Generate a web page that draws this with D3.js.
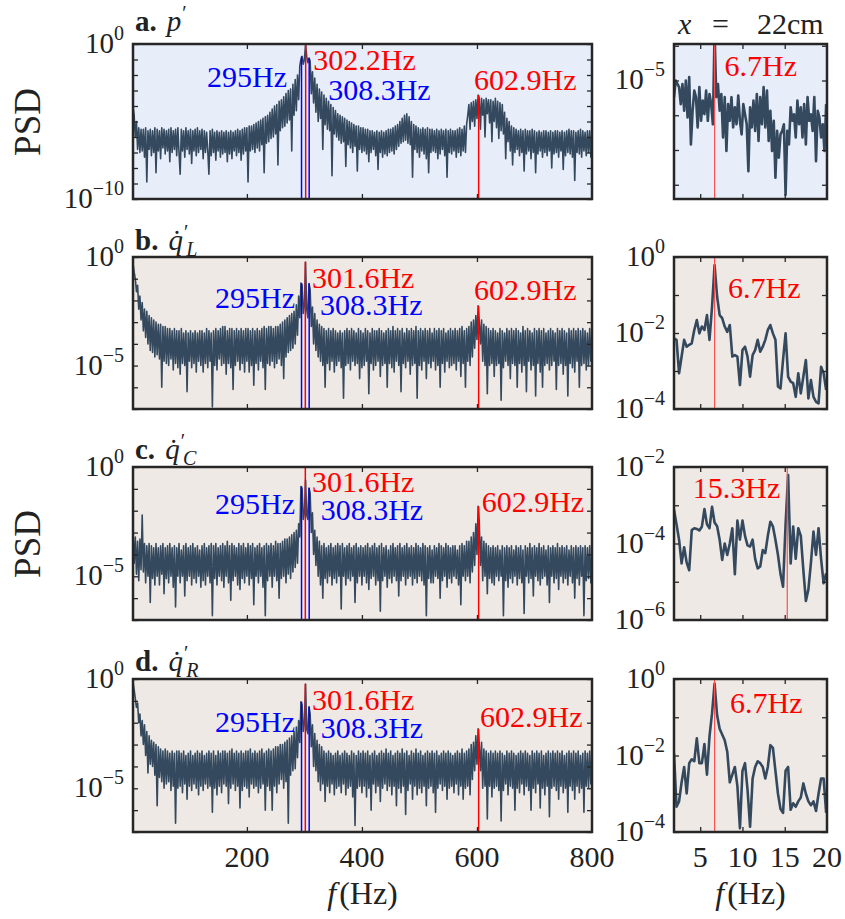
<!DOCTYPE html>
<html>
<head>
<meta charset="utf-8">
<script src="https://cdn.jsdelivr.net/npm/d3@7"></script>
<style>
	body { margin: 0; background: #fff; }
	text { font-family: "Liberation Serif", "Times New Roman", serif; fill: #222; }
</style>
</head>
<body>
<svg id="chart" width="845" height="919" font-family="Liberation Serif, serif"></svg>
<script>
// frequency grids (Hz)
const wideFreq  = d3.range(2, 801, 2)
const slowFreqP = d3.range(91).map(i => +(1.9 + 0.2 * i).toFixed(1))
const slowFreqQ = d3.range(61).map(i => +(1.9 + 0.3 * i).toFixed(1))

// log10(PSD), 0-800 Hz panels, one row = 40 Hz
const psdP = [
	-4.0,-4.6,-6.0,-5.0,-6.8,-5.4,-7.0,-5.5,-6.9,-5.5,-7.3,-5.4,-8.9,-5.6,-6.8,-5.5,-7.2,-5.6,-7.0,-5.4,
	-8.3,-5.5,-6.9,-5.6,-7.4,-5.4,-6.7,-5.5,-7.1,-5.6,-6.9,-5.5,-7.6,-5.4,-7.0,-5.6,-6.8,-5.5,-7.2,-5.4,
	-7.0,-8.4,-5.5,-6.9,-5.6,-7.3,-5.4,-6.8,-5.6,-7.1,-5.5,-7.7,-5.6,-6.9,-5.5,-7.2,-5.4,-7.0,-5.6,-6.8,
	-5.5,-7.4,-5.6,-7.0,-5.7,-6.9,-8.4,-5.6,-7.2,-5.5,-7.0,-5.7,-7.5,-5.6,-6.9,-5.7,-7.3,-5.6,-7.1,-5.7,
	-7.0,-5.6,-7.6,-5.7,-7.1,-5.6,-7.4,-5.7,-6.9,-5.6,-7.2,-5.5,-7.0,-5.6,-7.5,-5.5,-7.1,-5.4,-6.9,-5.4,
	-8.9,-5.3,-6.9,-5.3,-6.8,-5.2,-7.0,-5.1,-6.7,-5.0,-6.9,-4.9,-6.5,-4.8,-8.3,-4.7,-6.4,-4.6,-6.3,-4.4,
	-6.1,-4.2,-6.0,-4.0,-5.8,-3.9,-7.8,-3.7,-5.6,-3.6,-5.4,-3.4,-5.3,-3.2,-5.1,-3.0,-4.9,-2.9,-6.9,-2.6,
	-4.6,-2.3,-4.3,-2.0,-3.6,-1.4,-1.0,-0.8,-1.3,-1.0,-0.05,-0.8,-1.2,-0.9,-1.1,-3.2,-1.8,-3.8,-2.2,-4.4,
	-2.6,-5.0,-2.9,-4.8,-3.1,-6.8,-3.3,-5.2,-3.5,-5.5,-3.7,-5.6,-3.9,-8.5,-4.1,-5.8,-4.3,-6.0,-4.5,-6.2,
	-4.6,-6.4,-4.7,-6.3,-4.8,-7.9,-4.9,-6.5,-5.0,-6.7,-5.1,-7.0,-5.2,-6.6,-5.3,-8.2,-5.3,-6.8,-5.4,-7.0,
	-5.4,-6.9,-5.5,-7.1,-5.5,-7.6,-5.6,-7.0,-5.6,-6.8,-5.7,-7.2,-5.6,-8.1,-5.7,-7.0,-5.6,-7.3,-5.7,-7.1,
	-5.6,-7.2,-5.5,-7.0,-5.5,-6.9,-5.4,-7.1,-5.3,-6.8,-5.2,-6.6,-5.0,-6.4,-4.8,-6.3,-4.6,-6.2,-4.5,-6.4,
	-4.7,-6.5,-5.0,-8.6,-5.2,-6.8,-5.3,-7.0,-5.4,-7.3,-5.5,-6.9,-5.4,-7.1,-5.5,-7.4,-5.4,-8.3,-5.5,-7.0,
	-5.5,-6.9,-5.6,-7.0,-5.5,-7.4,-5.6,-7.1,-5.5,-6.8,-5.6,-7.2,-5.5,-8.6,-5.6,-7.0,-5.5,-7.1,-5.6,-6.9,
	-5.6,-7.3,-5.5,-7.0,-5.4,-7.2,-5.5,-6.9,-5.3,-7.0,-5.2,-4.6,-3.9,-5.5,-3.8,-5.0,-3.7,-5.3,-3.6,-4.8,
	-3.3,-3.5,-5.5,-3.5,-4.6,-3.6,-6.0,-3.5,-4.5,-3.6,-5.1,-3.6,-6.3,-3.7,-5.0,-3.5,-5.4,-3.7,-6.1,-3.8,
	-5.6,-3.9,-5.8,-4.4,-7.4,-4.8,-6.3,-5.0,-6.9,-5.3,-7.8,-5.4,-7.0,-5.5,-6.8,-5.6,-7.2,-5.5,-7.0,-5.6,
	-8.2,-5.5,-7.1,-5.6,-6.9,-5.6,-7.4,-5.5,-7.0,-5.6,-8.3,-5.7,-7.1,-5.6,-6.9,-5.7,-7.3,-5.6,-7.0,-5.6,
	-7.2,-5.7,-6.9,-5.6,-8.0,-5.7,-7.1,-5.6,-7.0,-5.6,-7.3,-5.7,-6.9,-5.6,-8.1,-5.7,-7.2,-5.6,-7.0,-5.5,
	-7.1,-5.6,-7.3,-5.6,-8.8,-5.7,-7.0,-5.6,-7.1,-5.5,-7.3,-5.6,-6.9,-5.7,-7.2,-5.6,-7.0,-5.6,-7.3,-5.5
]
const psdQL = [
	-0.3,-0.7,-1.0,-1.6,-1.3,-2.4,-1.8,-2.9,-2.1,-3.4,-2.4,-3.7,-2.5,-4.0,-2.7,-4.3,-2.8,-4.4,-2.9,-4.6,
	-3.0,-4.5,-3.1,-4.7,-3.1,-6.0,-3.2,-4.8,-3.2,-4.9,-3.3,-5.0,-3.3,-4.7,-3.4,-5.2,-3.3,-4.9,-3.4,-5.1,
	-3.4,-5.4,-3.3,-4.9,-3.5,-5.0,-3.4,-6.2,-3.5,-4.8,-3.4,-5.1,-3.5,-4.9,-3.4,-5.3,-3.5,-4.8,-3.4,-5.0,
	-3.4,-5.3,-3.5,-4.9,-3.3,-5.1,-3.4,-4.8,-3.5,-6.9,-3.4,-5.0,-3.3,-5.2,-3.4,-4.7,-3.3,-5.0,-3.2,-4.9,
	-3.2,-5.4,-3.4,-4.9,-3.3,-5.1,-3.3,-6.1,-3.4,-5.0,-3.3,-4.8,-3.4,-5.2,-3.3,-4.9,-3.4,-5.3,-3.3,-4.8,
	-3.3,-5.3,-3.4,-5.0,-3.3,-5.9,-3.4,-4.9,-3.3,-5.2,-3.4,-4.8,-3.3,-5.1,-3.2,-6.1,-3.3,-4.9,-3.2,-5.0,
	-3.2,-4.8,-3.3,-5.1,-3.2,-4.9,-3.2,-4.7,-3.1,-5.0,-3.0,-5.6,-2.9,-4.6,-2.8,-4.4,-2.7,-4.3,-2.6,-4.2,
	-2.5,-4.0,-2.2,-3.6,-1.8,-2.8,-1.2,-1.3,-2.6,-2.2,-0.23,-2.4,-2.8,-1.22,-1.5,-3.2,-2.3,-4.0,-2.6,-4.3,
	-2.9,-4.6,-3.1,-4.8,-3.2,-5.0,-3.3,-6.0,-3.4,-4.9,-3.3,-5.2,-3.4,-4.8,-3.3,-5.3,-3.4,-5.0,-3.5,-4.8,
	-3.4,-5.1,-3.5,-6.5,-3.4,-5.0,-3.3,-4.9,-3.4,-5.2,-3.3,-4.8,-3.4,-5.0,-3.5,-4.9,-3.3,-5.6,-3.4,-5.1,
	-3.5,-5.0,-3.3,-4.8,-3.4,-6.3,-3.5,-4.9,-3.3,-5.2,-3.4,-5.0,-3.4,-4.8,-3.3,-5.5,-3.4,-5.0,-3.5,-4.9,
	-3.4,-6.0,-3.3,-4.9,-3.4,-5.1,-3.2,-5.3,-3.4,-4.8,-3.3,-5.0,-3.4,-6.2,-3.3,-4.9,-3.5,-5.1,-3.3,-4.8,
	-3.4,-5.4,-3.3,-5.0,-3.4,-4.9,-3.2,-6.5,-3.4,-5.0,-3.3,-5.2,-3.4,-4.8,-3.3,-5.6,-3.4,-4.9,-3.3,-5.1,
	-3.5,-4.8,-3.3,-5.2,-3.4,-5.0,-3.3,-6.0,-3.4,-4.9,-3.3,-5.3,-3.5,-4.8,-3.4,-5.1,-3.3,-5.0,-3.4,-4.9,
	-3.3,-5.2,-3.4,-4.8,-3.3,-5.5,-3.2,-4.9,-3.4,-6.0,-3.3,-4.8,-3.2,-5.0,-3.0,-4.6,-2.9,-4.2,-2.7,-3.8,
	-2.25,-3.0,-4.0,-2.9,-4.8,-3.1,-5.0,-3.2,-6.3,-3.3,-5.0,-3.4,-4.9,-3.3,-5.5,-3.4,-5.0,-3.5,-4.9,-3.3,
	-6.6,-3.4,-5.1,-3.5,-4.8,-3.3,-5.0,-3.4,-5.6,-3.3,-4.9,-3.4,-5.0,-3.3,-6.0,-3.4,-4.9,-3.5,-5.3,-3.2,
	-5.0,-3.4,-6.2,-3.3,-4.8,-3.4,-5.2,-3.5,-5.0,-3.3,-6.4,-3.4,-4.9,-3.3,-5.3,-3.4,-6.0,-3.3,-5.0,-3.5,
	-4.9,-3.4,-5.2,-3.3,-5.0,-3.4,-4.8,-3.5,-6.1,-3.3,-5.0,-3.4,-4.9,-3.3,-5.4,-3.4,-5.0,-3.5,-6.4,-3.3,
	-4.9,-3.4,-5.1,-3.3,-5.3,-3.4,-4.8,-3.3,-6.0,-3.4,-5.0,-3.3,-4.9,-3.4,-5.2,-3.5,-5.0,-3.3,-4.8,-3.4
]
const psdQC = [
	-3.0,-4.4,-3.2,-4.9,-3.4,-5.2,-3.3,-4.7,-2.2,-4.8,-3.5,-5.3,-3.6,-5.0,-3.5,-6.2,-3.6,-5.1,-3.7,-5.4,
	-3.5,-5.0,-3.7,-5.4,-3.6,-4.9,-3.5,-5.8,-3.7,-5.1,-3.6,-5.3,-3.5,-5.0,-3.7,-5.5,-3.6,-6.4,-3.7,-5.0,
	-3.5,-5.3,-3.8,-5.0,-3.6,-5.9,-3.5,-5.2,-3.7,-5.0,-3.6,-5.4,-3.5,-5.1,-3.7,-5.3,-3.6,-5.0,-3.8,-5.5,
	-3.6,-5.2,-3.5,-5.4,-3.7,-5.0,-3.6,-5.3,-3.5,-6.8,-3.6,-5.1,-3.5,-5.4,-3.7,-5.0,-3.6,-5.2,-3.5,-5.5,
	-3.6,-5.0,-3.4,-5.3,-3.6,-6.1,-3.5,-5.2,-3.6,-5.0,-3.7,-5.4,-3.5,-5.6,-3.6,-5.1,-3.5,-5.3,-3.7,-5.0,
	-3.5,-5.4,-3.6,-5.1,-3.5,-6.3,-3.7,-5.0,-3.6,-5.3,-3.5,-5.0,-3.7,-5.5,-3.6,-6.8,-3.5,-5.2,-3.6,-5.0,
	-3.5,-5.5,-3.6,-5.0,-3.4,-5.2,-3.5,-6.0,-3.5,-5.1,-3.4,-5.0,-3.3,-5.3,-3.3,-4.9,-3.2,-5.1,-3.1,-4.8,
	-3.0,-4.6,-2.9,-4.4,-2.6,-3.2,-0.89,-1.0,-2.4,-2.1,-0.6,-2.2,-2.4,-0.96,-1.2,-3.0,-2.1,-4.0,-2.9,-4.5,
	-3.2,-5.0,-3.4,-5.4,-3.6,-6.0,-3.5,-5.1,-3.7,-5.3,-3.6,-5.0,-3.5,-5.4,-3.7,-5.1,-3.6,-5.3,-3.5,-5.0,
	-3.6,-6.5,-3.5,-5.0,-3.7,-5.4,-3.6,-5.1,-3.5,-5.2,-3.7,-5.0,-3.6,-6.2,-3.5,-5.3,-3.7,-5.0,-3.6,-5.4,
	-3.7,-5.0,-3.6,-5.3,-3.5,-5.6,-3.7,-5.1,-3.6,-5.0,-3.5,-5.4,-3.7,-5.2,-3.6,-6.6,-3.5,-5.2,-3.7,-5.0,
	-3.6,-5.5,-3.8,-5.1,-3.6,-5.3,-3.5,-5.0,-3.7,-5.2,-3.6,-5.9,-3.5,-5.2,-3.7,-5.0,-3.6,-5.4,-3.5,-5.1,
	-3.7,-5.0,-3.6,-5.4,-3.7,-5.1,-3.5,-5.3,-3.6,-5.0,-3.7,-5.2,-3.5,-5.4,-3.6,-6.8,-3.7,-5.1,-3.6,-5.3,
	-3.8,-5.3,-3.6,-5.0,-3.7,-5.1,-3.5,-6.0,-3.6,-5.2,-3.7,-5.0,-3.5,-5.5,-3.6,-5.1,-3.7,-5.3,-3.6,-5.0,
	-3.6,-5.1,-3.8,-5.4,-3.6,-6.3,-3.5,-5.0,-3.6,-5.2,-3.4,-5.0,-3.4,-5.3,-3.2,-4.8,-3.0,-4.5,-2.6,-4.0,
	-1.8,-2.5,-4.5,-3.2,-5.2,-3.4,-5.0,-3.5,-5.8,-3.6,-5.1,-3.7,-5.3,-3.6,-5.4,-3.7,-5.0,-3.6,-5.2,-3.8,
	-5.0,-3.6,-6.8,-3.7,-5.2,-3.6,-5.5,-3.7,-5.1,-3.6,-5.3,-3.8,-5.0,-3.6,-5.4,-3.7,-5.1,-3.6,-5.3,-3.8,
	-6.7,-3.6,-5.0,-3.7,-5.3,-3.5,-5.1,-3.7,-5.9,-3.6,-5.0,-3.7,-5.2,-3.5,-5.4,-3.7,-5.1,-3.6,-5.0,-3.8,
	-5.4,-3.6,-6.2,-3.7,-5.0,-3.6,-5.3,-3.7,-5.1,-3.5,-5.6,-3.7,-5.0,-3.6,-5.3,-3.7,-5.1,-3.6,-5.4,-3.8,
	-5.0,-3.6,-5.3,-3.7,-6.0,-3.6,-5.1,-3.7,-5.4,-3.6,-5.0,-3.7,-6.8,-3.6,-5.2,-3.7,-5.1,-3.6,-5.3,-3.9
]
const psdQR = [
	-0.15,-0.5,-0.9,-1.3,-1.1,-2.0,-1.6,-2.6,-1.9,-3.0,-2.1,-3.5,-2.4,-4.3,-2.6,-3.9,-2.8,-4.0,-2.9,-4.4,
	-3.0,-5.8,-3.1,-4.5,-3.2,-4.7,-3.3,-5.0,-3.2,-4.8,-3.3,-4.7,-3.4,-5.1,-3.3,-4.9,-3.4,-6.6,-3.3,-5.0,
	-3.3,-4.9,-3.4,-5.2,-3.3,-4.8,-3.5,-5.5,-3.4,-4.9,-3.3,-5.1,-3.5,-4.8,-3.4,-5.0,-3.3,-5.3,-3.4,-4.9,
	-3.3,-5.1,-3.5,-4.8,-3.4,-5.0,-3.3,-4.9,-3.4,-6.1,-3.3,-5.0,-3.5,-5.3,-3.3,-4.9,-3.4,-5.2,-3.3,-4.8,
	-3.3,-4.9,-3.4,-5.7,-3.3,-5.0,-3.2,-4.8,-3.4,-5.1,-3.3,-4.9,-3.4,-5.9,-3.3,-5.1,-3.4,-4.9,-3.3,-5.0,
	-3.3,-5.4,-3.2,-4.8,-3.4,-5.0,-3.3,-4.9,-3.4,-5.2,-3.3,-5.0,-3.2,-4.8,-3.4,-6.0,-3.3,-4.9,-3.2,-5.1,
	-3.3,-6.0,-3.2,-4.9,-3.1,-5.2,-3.1,-4.8,-3.0,-4.6,-3.0,-5.0,-2.9,-4.7,-2.8,-6.6,-2.7,-4.4,-2.6,-4.2,
	-2.4,-4.1,-2.2,-3.6,-1.9,-2.9,-1.04,-1.2,-2.4,-2.0,-0.23,-2.3,-2.5,-1.27,-1.6,-3.1,-2.1,-4.0,-2.5,-4.2,
	-2.8,-4.7,-3.0,-5.1,-3.1,-4.8,-3.3,-5.6,-3.4,-4.9,-3.3,-5.2,-3.4,-4.8,-3.5,-5.3,-3.4,-5.0,-3.3,-4.9,
	-3.5,-5.2,-3.4,-4.8,-3.3,-5.3,-3.4,-5.0,-3.5,-4.9,-3.3,-5.4,-3.4,-6.7,-3.5,-5.0,-3.3,-4.9,-3.4,-5.2,
	-3.3,-4.9,-3.4,-5.4,-3.3,-5.0,-3.5,-6.0,-3.4,-4.8,-3.3,-5.2,-3.5,-4.9,-3.4,-5.6,-3.3,-5.0,-3.4,-4.8,
	-3.2,-5.1,-3.4,-4.9,-3.3,-5.3,-3.5,-4.9,-3.4,-5.8,-3.3,-5.0,-3.4,-5.2,-3.2,-4.9,-3.4,-6.2,-3.3,-5.1,
	-3.5,-4.8,-3.3,-5.5,-3.4,-4.9,-3.2,-5.3,-3.4,-5.0,-3.3,-5.2,-3.5,-4.9,-3.4,-5.8,-3.3,-5.0,-3.4,-4.9,
	-3.3,-5.2,-3.4,-6.1,-3.3,-5.0,-3.5,-4.8,-3.4,-5.1,-3.3,-4.9,-3.4,-5.5,-3.3,-5.0,-3.4,-4.9,-3.5,-5.2,
	-3.4,-4.8,-3.3,-5.3,-3.4,-4.9,-3.2,-5.5,-3.4,-5.0,-3.3,-4.9,-3.2,-5.3,-3.0,-4.6,-2.9,-4.2,-2.6,-3.9,
	-2.28,-3.0,-4.2,-2.9,-5.0,-3.2,-4.9,-3.3,-6.4,-3.4,-4.9,-3.3,-5.4,-3.4,-5.0,-3.3,-4.9,-3.4,-5.1,-3.3,
	-6.5,-3.4,-5.1,-3.5,-4.8,-3.3,-5.3,-3.4,-4.9,-3.3,-5.0,-3.4,-6.0,-3.5,-5.0,-3.4,-5.2,-3.3,-4.8,-3.4,
	-5.3,-3.3,-4.9,-3.4,-5.1,-3.5,-6.0,-3.3,-5.0,-3.4,-5.2,-3.3,-4.8,-3.4,-5.9,-3.3,-5.0,-3.5,-5.3,-3.4,
	-4.9,-3.3,-6.3,-3.4,-5.0,-3.3,-4.9,-3.4,-5.1,-3.3,-5.5,-3.4,-4.9,-3.3,-5.2,-3.5,-5.0,-3.4,-6.1,-3.3,
	-4.9,-3.4,-5.1,-3.3,-5.5,-3.4,-4.9,-3.3,-5.2,-3.5,-5.0,-3.4,-6.1,-3.3,-4.9,-3.4,-5.0,-3.3,-4.8,-3.5
]

// log10(PSD), 2-20 Hz panels
const slowP = [
	-5.48,-5.0,-5.1,-5.19,-5.68,-5.1,-5.87,-5.0,-6.06,-4.9,
	-6.84,-5.87,-5.29,-5.48,-6.35,-5.19,-6.16,-5.58,-5.97,-5.29,
	-6.16,-5.39,-5.68,-6.26,-3.6,-5.48,-5.1,-5.87,-5.39,-6.64,
	-5.48,-7.03,-5.68,-6.16,-5.48,-6.35,-5.77,-6.26,-5.43,-6.16,
	-6.55,-5.68,-5.97,-6.26,-7.61,-5.77,-6.35,-5.58,-6.45,-5.39,
	-6.74,-5.48,-6.26,-5.19,-6.35,-5.29,-6.74,-5.87,-7.03,-6.16,
	-7.8,-6.45,-7.22,-6.55,-6.45,-6.26,-8.29,-6.45,-6.84,-5.77,
	-6.16,-5.97,-6.64,-5.58,-6.26,-5.77,-6.64,-5.68,-6.84,-5.48,
	-6.16,-5.97,-6.45,-5.48,-7.32,-5.87,-6.06,-6.64,-6.26,-7.03,
	-5.68
]
const slowQL = [
	-2.14,-2.18,-3.06,-2.62,-2.18,-2.36,-2.31,-2.27,-1.92,-1.66,
	-2.01,-1.83,-1.92,-1.53,-2.18,-1.31,-0.21,-1.04,-1.53,-1.61,
	-1.83,-1.97,-1.79,-2.62,-2.58,-2.62,-3.37,-2.45,-2.36,-2.62,
	-3.15,-2.58,-2.45,-2.18,-2.49,-2.36,-2.18,-1.92,-1.79,-2.01,
	-2.18,-3.41,-3.46,-2.71,-2.01,-3.15,-3.28,-3.32,-3.68,-3.06,
	-3.59,-3.15,-2.71,-3.72,-3.24,-3.68,-3.81,-3.85,-2.89,-3.06,
	-3.5
]
const slowQC = [
	-3.12,-3.5,-3.9,-4.52,-4.1,-4.5,-4.7,-3.65,-3.6,-3.62,
	-3.66,-3.56,-3.1,-3.5,-3.6,-3.04,-3.45,-3.55,-3.9,-4.43,
	-4.0,-4.3,-4.0,-3.6,-4.8,-3.4,-3.9,-3.4,-3.8,-4.05,
	-4.08,-3.9,-4.4,-4.65,-4.6,-4.17,-4.25,-3.8,-3.43,-3.55,
	-3.9,-4.3,-4.8,-5.13,-3.5,-2.21,-4.52,-3.56,-4.4,-3.6,
	-3.8,-4.69,-5.5,-5.2,-4.5,-3.69,-4.3,-3.6,-4.4,-5.04,
	-4.78
]
const slowQR = [
	-1.94,-3.34,-3.2,-2.7,-2.3,-2.99,-2.2,-2.1,-2.15,-1.55,
	-2.2,-2.2,-1.7,-2.5,-1.5,-0.9,-0.12,-0.95,-1.3,-1.45,
	-1.6,-1.9,-2.7,-2.5,-2.3,-2.8,-3.9,-2.4,-2.2,-2.9,
	-3.86,-2.6,-2.3,-2.15,-2.2,-2.3,-2.6,-2.3,-1.73,-1.8,
	-2.4,-3.0,-3.4,-3.5,-2.4,-2.3,-3.42,-3.25,-3.34,-3.2,
	-3.1,-2.73,-3.0,-3.2,-3.3,-3.2,-3.45,-3.0,-2.6,-2.6,
	-3.5
]

// marked peaks: frequency, log10 height of the stem, kind
const peaksP  = [{f: 295, top: -0.8, kind: 'side'}, {f: 302.2, top: 0, kind: 'main'}, {f: 308.3, top: -0.9, kind: 'side'}, {f: 602.9, top: -3.3, kind: 'main'}]
const peaksQL = [{f: 295, top: -1.2, kind: 'side'}, {f: 301.6, top: -0.23, kind: 'main'}, {f: 308.3, top: -1.22, kind: 'side'}, {f: 602.9, top: -2.25, kind: 'main'}]
const peaksQC = [{f: 295, top: -0.89, kind: 'side'}, {f: 301.6, top: 0, kind: 'main'}, {f: 308.3, top: -0.96, kind: 'side'}, {f: 602.9, top: -1.8, kind: 'main'}]
const peaksQR = [{f: 295, top: -1.04, kind: 'side'}, {f: 301.6, top: -0.23, kind: 'main'}, {f: 308.3, top: -1.27, kind: 'side'}, {f: 602.9, top: -2.28, kind: 'main'}]
const slowPeakP  = [{f: 6.7, kind: 'slow'}]
const slowPeakQL = [{f: 6.7, kind: 'slow'}]
const slowPeakQC = [{f: 15.3, kind: 'slow'}]
const slowPeakQR = [{f: 6.7, kind: 'slow'}]

// axis ticks
const wideTicks = [200, 400, 600, 800]
const slowTicks = [5, 10, 15, 20]

const svg = d3.select('#chart')
const ink = '#262626'
const lineColor = '#34495e'
const peakColor = {main: '#ff0000', side: '#0000ff', slow: '#ff5050'}

const rows = [
	{top: 44,  bottom: 199, bg: '#e7edf9'},
	{top: 257, bottom: 409, bg: '#eee9e5'},
	{top: 467, bottom: 620, bg: '#eee9e5'},
	{top: 679, bottom: 832, bg: '#eee9e5'}
]
const wideRange = [133, 592]
const slowRange = [674, 827]

// note placement: [dx from stem, baseline below panel top, anchor]
const panels = [
	{row: 0, wide: true,  freq: wideFreq,  psd: psdP,   yDom: [-10, 0],       yLabels: [0, -10],     peaks: peaksP,
	 notes: [[-14.5, 43, 'end'], [7.6, 26, 'start'], [19, 56, 'start'], [-4.6, 46, 'start']]},
	{row: 0, wide: false, freq: slowFreqP, psd: slowP,  yDom: [-8.41, -3.95], yLabels: [-5],         peaks: slowPeakP,
	 notes: [[10, 32, 'start']]},
	{row: 1, wide: true,  freq: wideFreq,  psd: psdQL,  yDom: [-7, 0],        yLabels: [0, -5],      peaks: peaksQL,
	 notes: [[-6.5, 51, 'end'], [6.6, 31, 'start'], [10.8, 58, 'start'], [-4.6, 43, 'start']]},
	{row: 1, wide: false, freq: slowFreqQ, psd: slowQL, yDom: [-4, 0],        yLabels: [0, -2, -4],  peaks: slowPeakQL,
	 notes: [[13.4, 41, 'start']]},
	{row: 2, wide: true,  freq: wideFreq,  psd: psdQC,  yDom: [-7, 0],        yLabels: [0, -5],      peaks: peaksQC,
	 notes: [[-6.5, 47, 'end'], [6.6, 25, 'start'], [11.5, 53, 'start'], [3, 45, 'start']]},
	{row: 2, wide: false, freq: slowFreqQ, psd: slowQC, yDom: [-6, -2],       yLabels: [-2, -4, -6], peaks: slowPeakQC,
	 notes: [[-7, 31, 'end']]},
	{row: 3, wide: true,  freq: wideFreq,  psd: psdQR,  yDom: [-7, 0],        yLabels: [0, -5],      peaks: peaksQR,
	 notes: [[-6.5, 53, 'end'], [6.6, 31, 'start'], [11.5, 59, 'start'], [1.4, 48, 'start']]},
	{row: 3, wide: false, freq: slowFreqQ, psd: slowQR, yDom: [-4, 0],        yLabels: [0, -2, -4],  peaks: slowPeakQR,
	 notes: [[15.4, 34, 'start']]}
]

function powLabel(g, x, y, e) {
	const t = g.append('text')
		.attr('x', x).attr('y', y + 9)
		.attr('text-anchor', 'end')
		.attr('font-size', 29)
	t.append('tspan').text('10')
	t.append('tspan')
		.attr('dy', -13)
		.attr('font-size', 20)
		.text(e < 0 ? '\u2212' + (-e) : e)
}

panels.forEach((p, idx) => {
	const r = rows[p.row]
	const xr = p.wide ? wideRange : slowRange
	const x = d3.scaleLinear().domain(p.wide ? [2, 800] : [1.9, 20]).range(xr)
	const y = d3.scaleLog().domain(p.yDom.map(e => Math.pow(10, e))).range([r.bottom, r.top])
	const g = svg.append('g')

	g.append('rect')
		.attr('x', xr[0]).attr('y', r.top)
		.attr('width', xr[1] - xr[0]).attr('height', r.bottom - r.top)
		.attr('fill', r.bg)

	g.append('clipPath').attr('id', 'clip' + idx)
		.append('rect')
		.attr('x', xr[0]).attr('y', r.top)
		.attr('width', xr[1] - xr[0]).attr('height', r.bottom - r.top)

	const line = d3.line()
		.x(d => x(d[0]))
		.y(d => y(d[1]))
	const pts = p.freq.map((f, i) => [f, Math.pow(10, p.psd[i])])

	g.append('path')
		.attr('clip-path', `url(#clip${idx})`)
		.attr('d', line(pts))
		.attr('fill', 'none')
		.attr('stroke', lineColor)
		.attr('stroke-width', p.wide ? 1.6 : 2.6)
		.attr('stroke-linejoin', 'round')

	// stems at the marked frequencies
	p.peaks.forEach((pk, j) => {
		const px = x(pk.f)
		const yTop = pk.kind === 'slow' ? r.top : y(Math.pow(10, pk.top))
		g.append('line')
			.attr('x1', px).attr('x2', px)
			.attr('y1', r.bottom).attr('y2', yTop)
			.attr('stroke', peakColor[pk.kind])
			.attr('stroke-width', pk.kind === 'slow' ? 1.2 : 1.5)

		const n = p.notes[j]
		svg.append('text')
			.attr('x', px + n[0]).attr('y', r.top + n[1])
			.attr('text-anchor', n[2])
			.attr('font-size', 30)
			.style('fill', pk.kind === 'side' ? '#0000ff' : '#ff0000')
			.text(pk.f + 'Hz')
	})

	// inward ticks on all four sides
	const xt = p.wide ? wideTicks.slice(0, 3) : slowTicks.slice(0, 3)
	const decades = d3.range(Math.ceil(p.yDom[0]), Math.floor(p.yDom[1]) + 1).map(e => Math.pow(10, e))
	const strip = s => s.call(a => a.select('.domain').remove()).selectAll('line').attr('stroke', ink).attr('stroke-width', 1.3)

	g.append('g').attr('transform', `translate(0,${r.bottom})`)
		.call(d3.axisBottom(x).tickValues(xt).tickSize(-5).tickFormat('')).call(strip)
	g.append('g').attr('transform', `translate(0,${r.top})`)
		.call(d3.axisTop(x).tickValues(xt).tickSize(-5).tickFormat('')).call(strip)
	g.append('g').attr('transform', `translate(${xr[0]},0)`)
		.call(d3.axisLeft(y).tickValues(decades).tickSize(-5).tickFormat('')).call(strip)
	g.append('g').attr('transform', `translate(${xr[1]},0)`)
		.call(d3.axisRight(y).tickValues(decades).tickSize(-5).tickFormat('')).call(strip)

	g.append('rect')
		.attr('x', xr[0]).attr('y', r.top)
		.attr('width', xr[1] - xr[0]).attr('height', r.bottom - r.top)
		.attr('fill', 'none')
		.attr('stroke', ink)
		.attr('stroke-width', 2.5)

	p.yLabels.forEach(e => powLabel(svg, xr[0] - 9, y(Math.pow(10, e)), e))

	// x tick labels only under the last row
	if (p.row === 3) {
		const labels = p.wide ? wideTicks : slowTicks
		labels.forEach(v => {
			svg.append('text')
				.attr('x', x(v)).attr('y', 867)
				.attr('text-anchor', 'middle')
				.attr('font-size', 30)
				.text(v)
		})
		const lab = svg.append('text')
			.attr('x', (xr[0] + xr[1]) / 2).attr('y', 904)
			.attr('text-anchor', 'middle')
			.attr('font-size', 32)
		lab.append('tspan').attr('font-style', 'italic').text('f')
		lab.append('tspan').attr('dx', 3).text('(Hz)')
	}
})

// panel titles
const titles = [
	{tag: 'a.', sym: 'p',        sub: null, y: 31},
	{tag: 'b.', sym: 'q\u0307', sub: 'L',  y: 250},
	{tag: 'c.', sym: 'q\u0307', sub: 'C',  y: 459},
	{tag: 'd.', sym: 'q\u0307', sub: 'R',  y: 671}
]
titles.forEach(t => {
	const el = svg.append('text')
		.attr('x', 135).attr('y', t.y)
		.attr('font-size', 29)
	el.append('tspan').attr('font-weight', 'bold').text(t.tag)
	el.append('tspan').attr('dx', 10).attr('font-style', 'italic').text(t.sym)
	el.append('tspan').attr('dx', 1).attr('dy', -11).attr('font-size', 20).text('\u2032')
	if (t.sub) {
		el.append('tspan').attr('dx', -2).attr('dy', 17)
			.attr('font-size', 20).attr('font-style', 'italic').text(t.sub)
	}
})

// location tag
const loc = svg.append('text').attr('y', 34).attr('font-size', 30)
loc.append('tspan').attr('x', 678).attr('font-style', 'italic').text('x')
loc.append('tspan').attr('x', 712).text('=')
loc.append('tspan').attr('x', 757).text('22cm')

// y titles
;[122, 544].forEach(cy => {
	svg.append('text')
		.attr('transform', `translate(40,${cy}) rotate(-90)`)
		.attr('text-anchor', 'middle')
		.attr('font-size', 37)
		.text('PSD')
})
</script>
</body>
</html>
